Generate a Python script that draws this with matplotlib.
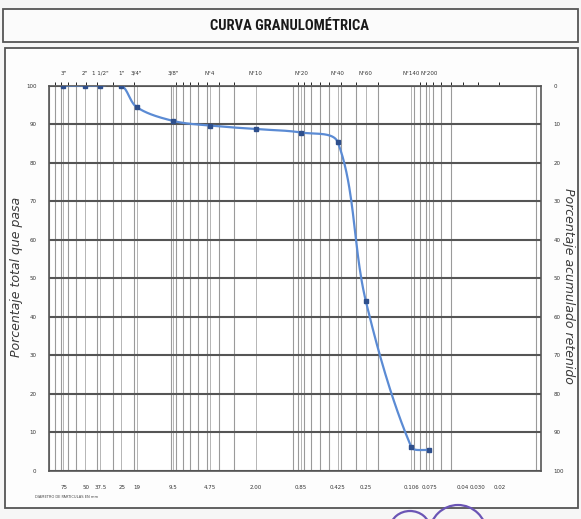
import numpy as np
import matplotlib
matplotlib.use("Agg")
import matplotlib.pyplot as plt
from matplotlib.patches import Rectangle, Arc
from matplotlib.ticker import FixedLocator, NullFormatter, LogLocator

# ---------------- data ----------------
sieve_labels = ['3"', '2"', '1 1/2"', '1"', '3/4"', '3/8"', 'N°4', 'N°10',
                'N°20', 'N°40', 'N°60', 'N°140', 'N°200']
sieve_mm = [76.2, 50.8, 38.1, 25.4, 19.05, 9.525, 4.75, 2.00,
            0.85, 0.425, 0.25, 0.106, 0.075]
percent_passing = [100, 100, 100, 100, 94.4, 90.8, 89.6, 88.7,
                   87.8, 85.3, 44.1, 6.3, 5.4]

bottom_tick_values = [75, 50, 37.5, 25, 19, 9.5, 4.75, 2.00, 0.85, 0.425,
                      0.25, 0.106, 0.075, 0.04, 0.030, 0.02]
bottom_tick_labels = ['75', '50', '37.5', '25', '19', '9.5', '4.75', '2.00',
                      '0.85', '0.425', '0.25', '0.106', '0.075', '0.04',
                      '0.030', '0.02']
left_ticks = list(range(0, 101, 10))
right_ticks = list(range(0, 101, 10))

title = "CURVA GRANULOMÉTRICA"
ylabel_left = "Porcentaje total que pasa"
ylabel_right = "Porcentaje acumulado retenido"
xlabel = "DIAMETRO DE PARTICULAS EN mm"

# ---------------- figure ----------------
W, H = 581, 519
fig = plt.figure(figsize=(W / 100, H / 100), dpi=100)
fig.patch.set_facecolor('#f6f6f6')

def fx(px):
    return px / W

def fy(py):
    return 1 - py / H

# frames
fig.patches.append(Rectangle((fx(3), fy(42)), fx(575), 33 / H, transform=fig.transFigure,
                             fill=True, facecolor='#fbfbfb', edgecolor='#555555', lw=1.3,
                             zorder=-10))
fig.patches.append(Rectangle((fx(5), fy(508)), fx(573), 460 / H, transform=fig.transFigure,
                             fill=True, facecolor='#fdfdfd', edgecolor='#555555', lw=1.3,
                             zorder=-10))
fig.text(fx(289), fy(25.5), title, ha='center', va='center', fontsize=10.5,
         fontweight='bold', fontstretch='condensed',
         family=['Roboto Condensed', 'Roboto', 'DejaVu Sans'], color='#1a1a1a')

left, right, top, bottom = 49, 541, 85.5, 471
ax = fig.add_axes([fx(left), fy(bottom), (right - left) / W, (bottom - top) / H])
ax.set_facecolor('white')
ax.set_xscale('log')
ax.set_xlim(100, 0.0091)
ax.set_ylim(0, 100)

# grid lines
ax.xaxis.set_minor_locator(LogLocator(base=10, subs=np.arange(1, 10), numticks=50))
ax.xaxis.set_major_locator(FixedLocator(bottom_tick_values))
ax.set_xticklabels(bottom_tick_labels)
ax.xaxis.set_minor_formatter(NullFormatter())
ax.grid(which='minor', axis='x', color='#9a9a9a', lw=0.8)
ax.set_yticks(left_ticks)
ax.grid(which='major', axis='y', color='#555555', lw=1.5)
for v in sieve_mm:
    ax.axvline(v, color='#b5b5b5', lw=0.7, zorder=0.5)

ax.tick_params(axis='both', which='both', length=0)
ax.tick_params(axis='x', labelsize=4, pad=10, colors='#333333')
ax.tick_params(axis='y', labelsize=4, pad=9, colors='#333333')
for s in ax.spines.values():
    s.set_color('#555555')
    s.set_linewidth(1.2)

# smooth curve: Bezier segments with chord-weighted tangents, in display space
P = ax.transData.transform(np.column_stack([sieve_mm, percent_passing]))
n = len(P)
f = 1 / 3
t = np.linspace(0, 1, 40)[:, None]
curve = []
for i in range(n - 1):
    p1, p2 = P[i], P[i + 1]
    d12 = np.linalg.norm(p2 - p1)
    if i > 0:
        p0 = P[i - 1]
        d01 = np.linalg.norm(p1 - p0)
        c1 = p1 + (p2 - p0) * d12 / (d01 + d12) * f
    else:
        c1 = p1 + (p2 - p1) / 3
    if i < n - 2:
        p3 = P[i + 2]
        d23 = np.linalg.norm(p3 - p2)
        c2 = p2 - (p3 - p1) * d12 / (d12 + d23) * f
    else:
        c2 = p2 - (p2 - p1) / 3
    seg = ((1 - t) ** 3) * p1 + 3 * ((1 - t) ** 2) * t * c1 + 3 * (1 - t) * t ** 2 * c2 + t ** 3 * p2
    curve.append(seg)
curve = ax.transData.inverted().transform(np.vstack(curve))
ax.plot(curve[:, 0], curve[:, 1], color='#5b8bd4', lw=1.6, zorder=3, solid_capstyle='round')
ax.plot(sieve_mm, percent_passing, ls='none', marker='s', ms=3.2, color='#2e4f8c', zorder=4)

# top axis with sieve names
top_ax = ax.secondary_xaxis('top')
top_ax.set_xticks(sieve_mm)
top_ax.set_xticklabels(sieve_labels)
top_ax.tick_params(length=0, labelsize=4, pad=7, colors='#333333')
top_ax.spines['top'].set_visible(False)

# right axis
ax2 = ax.twinx()
ax2.set_ylim(100, 0)
ax2.set_yticks(right_ticks)
ax2.tick_params(length=0, labelsize=4, pad=9, colors='#333333')
for s in ax2.spines.values():
    s.set_visible(False)

fig.text(fx(17), fy(277), ylabel_left, rotation=90, ha='center', va='center',
         fontsize=9, style='italic', color='#3a3a3a')
fig.text(fx(568), fy(286), ylabel_right, rotation=270, ha='center', va='center',
         fontsize=9, style='italic', color='#3a3a3a')
fig.text(fx(35), fy(497), xlabel, ha='left', va='center', fontsize=2.6, color='#444444')

# purple ink mark at the bottom of the photo
for cx, cy, w, h in [(458, 535, 58, 60), (410, 529, 40, 36)]:
    fig.patches.append(Arc((fx(cx), fy(cy)), w / W, h / H, theta1=5, theta2=175,
                           transform=fig.transFigure, color='#6b55b5', lw=1.6, zorder=5))

fig.savefig('out.png', dpi=100, facecolor=fig.get_facecolor())
